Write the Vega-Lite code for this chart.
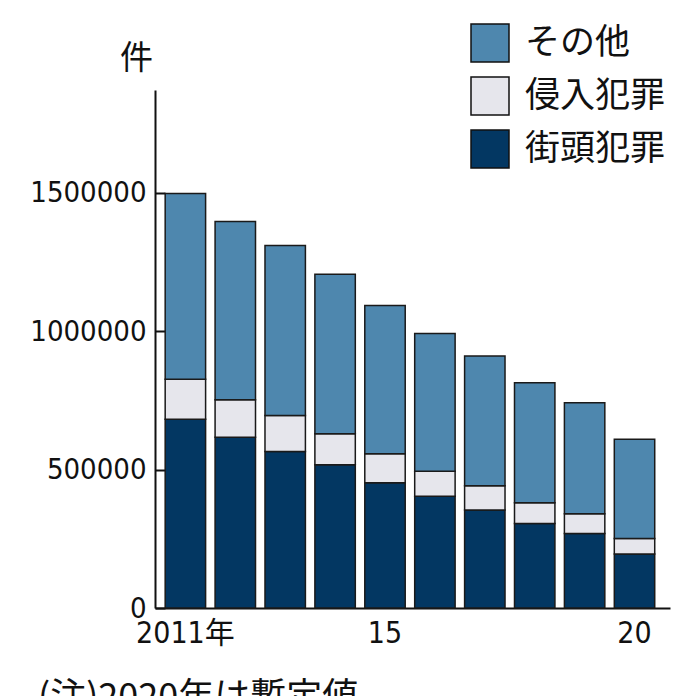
{
  "$schema": "https://vega.github.io/schema/vega-lite/v6.json",
  "autosize": "none",
  "width": 515,
  "height": 518,
  "padding": {"left": 155, "top": 90, "right": 26, "bottom": 88},
  "background": "white",
  "config": {
    "view": {"stroke": null},
    "font": "Liberation Sans Narrow, DejaVu Sans Condensed, Noto Sans CJK JP"
  },
  "title": {
    "text": "(注)2020年は暫定値",
    "orient": "bottom",
    "anchor": "start",
    "frame": "group",
    "dx": -117,
    "offset": 33,
    "font": "Noto Sans CJK JP",
    "fontSize": 36,
    "fontWeight": "normal",
    "color": "#111111"
  },
  "data": {
    "values": [
      {"year": "2011", "type": "街頭犯罪", "order": 1, "value": 682000},
      {"year": "2011", "type": "侵入犯罪", "order": 2, "value": 145000},
      {"year": "2011", "type": "その他", "order": 3, "value": 671000},
      {"year": "2012", "type": "街頭犯罪", "order": 1, "value": 617000},
      {"year": "2012", "type": "侵入犯罪", "order": 2, "value": 136000},
      {"year": "2012", "type": "その他", "order": 3, "value": 644000},
      {"year": "2013", "type": "街頭犯罪", "order": 1, "value": 566000},
      {"year": "2013", "type": "侵入犯罪", "order": 2, "value": 130000},
      {"year": "2013", "type": "その他", "order": 3, "value": 614000},
      {"year": "2014", "type": "街頭犯罪", "order": 1, "value": 518000},
      {"year": "2014", "type": "侵入犯罪", "order": 2, "value": 112000},
      {"year": "2014", "type": "その他", "order": 3, "value": 576000},
      {"year": "2015", "type": "街頭犯罪", "order": 1, "value": 453000},
      {"year": "2015", "type": "侵入犯罪", "order": 2, "value": 104000},
      {"year": "2015", "type": "その他", "order": 3, "value": 536000},
      {"year": "2016", "type": "街頭犯罪", "order": 1, "value": 404000},
      {"year": "2016", "type": "侵入犯罪", "order": 2, "value": 90000},
      {"year": "2016", "type": "その他", "order": 3, "value": 498000},
      {"year": "2017", "type": "街頭犯罪", "order": 1, "value": 354000},
      {"year": "2017", "type": "侵入犯罪", "order": 2, "value": 88000},
      {"year": "2017", "type": "その他", "order": 3, "value": 469000},
      {"year": "2018", "type": "街頭犯罪", "order": 1, "value": 305000},
      {"year": "2018", "type": "侵入犯罪", "order": 2, "value": 75000},
      {"year": "2018", "type": "その他", "order": 3, "value": 434000},
      {"year": "2019", "type": "街頭犯罪", "order": 1, "value": 269000},
      {"year": "2019", "type": "侵入犯罪", "order": 2, "value": 72000},
      {"year": "2019", "type": "その他", "order": 3, "value": 401000},
      {"year": "2020", "type": "街頭犯罪", "order": 1, "value": 195000},
      {"year": "2020", "type": "侵入犯罪", "order": 2, "value": 56000},
      {"year": "2020", "type": "その他", "order": 3, "value": 359000}
    ]
  },
  "mark": {"type": "bar", "stroke": "#1a1a1a", "strokeWidth": 1.5},
  "encoding": {
    "x": {
      "field": "year",
      "type": "ordinal",
      "scale": {"paddingInner": 0.19, "paddingOuter": 0.255, "align": 0.4},
      "axis": {
        "title": null,
        "domainColor": "#111111",
        "domainWidth": 2,
        "ticks": false,
        "labelAngle": 0,
        "labelFontSize": 30,
        "labelColor": "#111111",
        "labelPadding": 10,
        "labelExpr": "datum.value == '2011' ? '2011年' : datum.value == '2015' ? '15' : datum.value == '2020' ? '20' : ''"
      }
    },
    "y": {
      "field": "value",
      "type": "quantitative",
      "stack": "zero",
      "scale": {"domain": [0, 1872000], "nice": false},
      "axis": {
        "title": "件",
        "titleAngle": 0,
        "titleX": -19,
        "titleY": -32,
        "titleAlign": "center",
        "titleBaseline": "middle",
        "titleFont": "Noto Sans CJK JP",
        "titleFontSize": 33,
        "titleFontWeight": "normal",
        "titleColor": "#111111",
        "values": [0, 500000, 1000000, 1500000],
        "format": "d",
        "grid": false,
        "domainColor": "#111111",
        "domainWidth": 2,
        "tickColor": "#111111",
        "tickWidth": 2,
        "tickSize": -10,
        "labelPadding": 19,
        "labelFontSize": 29,
        "labelColor": "#111111"
      }
    },
    "color": {
      "field": "type",
      "type": "nominal",
      "scale": {
        "domain": ["その他", "侵入犯罪", "街頭犯罪"],
        "range": ["#4e87ae", "#e6e6ec", "#033762"]
      },
      "legend": {
        "title": null,
        "orient": "none",
        "legendX": 315,
        "legendY": -67,
        "padding": 0,
        "symbolType": "square",
        "symbolSize": 1444,
        "symbolStrokeColor": "#111111",
        "symbolStrokeWidth": 1.5,
        "symbolOpacity": 1,
        "labelFont": "Noto Sans CJK JP",
        "labelFontSize": 35,
        "labelColor": "#111111",
        "labelOffset": 15,
        "rowPadding": 9
      }
    },
    "order": {"field": "order", "type": "quantitative", "sort": "ascending"}
  }
}
